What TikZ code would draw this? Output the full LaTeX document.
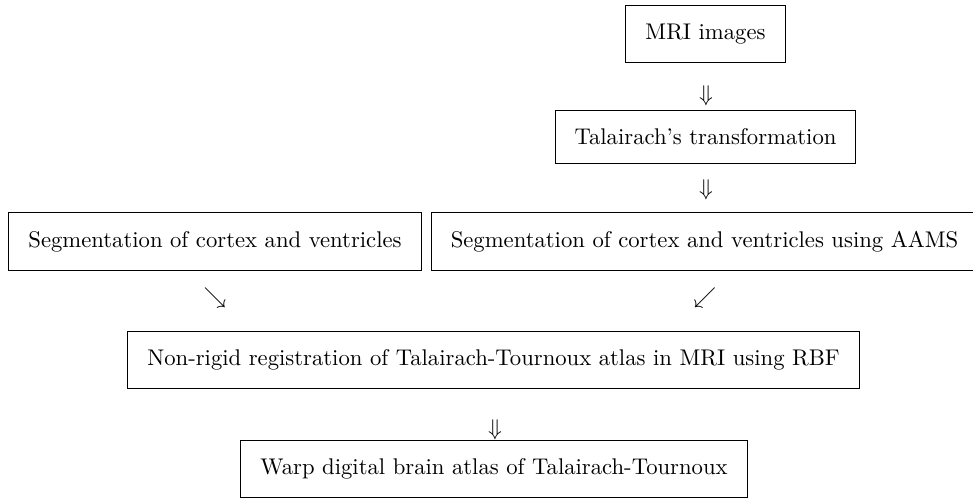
\documentclass[tikz,border=0pt]{standalone}
\usetikzlibrary{positioning}
\tikzset{paso/.style={draw, inner xsep=8.6pt, inner ysep=8.2pt, line width=0.45pt}}
\begin{document}
\begin{tikzpicture}[x=0.441pt, y=-0.441pt]
  \useasboundingbox (0,0) rectangle (973,497);
  % las cajas del flujo
  \node[paso] (mri) at (705.5,34) {MRI images};
  \node[paso] (tal) at (705.5,137) {Talairach's transformation};
  \node[paso] (segl) at (215,241.5) {Segmentation of cortex and ventricles};
  \node[paso] (segr) at (704.5,241.5) {Segmentation of cortex and ventricles using AAMS};
  \node[paso] (reg) at (493.5,360) {Non-rigid registration of Talairach-Tournoux atlas in MRI using RBF};
  \node[paso] (warp) at (494,469) {Warp digital brain atlas of Talairach-Tournoux};
  % las flechas, como simbolos
  \node (f1) at (706,96) {$\Downarrow$};
  \node (f2) at (706,190) {$\Downarrow$};
  \node (f3) at (215,298) {$\searrow$};
  \node (f4) at (705,298) {$\swarrow$};
  \node (f5) at (495,430) {$\Downarrow$};
\end{tikzpicture}
\end{document}
